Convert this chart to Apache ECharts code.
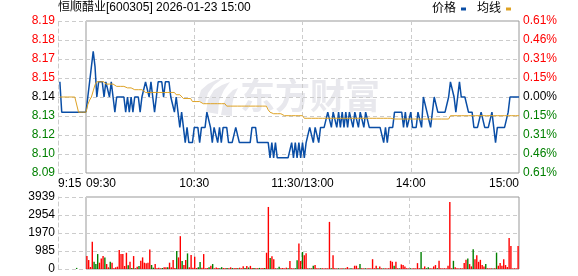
<!DOCTYPE html>
<html><head><meta charset="utf-8">
<script src="https://cdn.jsdelivr.net/npm/echarts@6/dist/echarts.min.js"></script>
<style>html,body{margin:0;padding:0;background:#fff}#c{width:578px;height:276px}</style>
</head><body><div id="c"></div>
<script>
// ---------- data ----------
const titleText = '恒顺醋业[600305] 2026-01-23 15:00';
const priceTicks = ['8.09','8.10','8.12','8.13','8.14','8.15','8.17','8.18','8.19'];
const pctTicks = ['0.61%','0.46%','0.31%','0.15%','0.00%','0.15%','0.31%','0.46%','0.61%'];
const volTicks = ['0','985','1970','2954','3939'];
const timeTicks = ['09:30','10:30','11:30/13:00','14:00','15:00'];
const preTimeLabel = '9:15';

// pre-market 9:15 .. 9:30
const prePrice = [null,8.15,8.13,8.13,8.13,8.13,8.13,8.13,8.13,8.13,8.13,8.13,8.13,8.13,8.13,8.13];
const preAvg   = [null,8.14,8.14,8.14,8.14,8.14,8.14,8.14,8.14,8.14,8.14,8.13,8.13,8.13,8.13,8.13];
const preVol   = [null,null,null,null,null,null,null,null,null,null,60,null,null,null,null,null];
const preVolGreen = [10];

// 9:30 .. 15:00 (241 minutes)
const price = [
8.13,8.14,8.15,8.16,8.17,8.16,8.14,8.15,8.15,8.15,
8.14,8.15,8.15,8.14,8.15,8.14,8.13,8.14,8.14,8.14,
8.14,8.14,8.13,8.14,8.13,8.14,8.13,8.14,8.14,8.14,
8.13,8.14,8.14,8.15,8.15,8.14,8.15,8.14,8.13,8.14,
8.15,8.15,8.15,8.14,8.15,8.15,8.15,8.14,8.14,8.13,
8.14,8.13,8.12,8.13,8.12,8.11,8.12,8.11,8.11,8.11,
8.12,8.12,8.12,8.11,8.12,8.12,8.12,8.13,8.13,8.12,
8.11,8.12,8.12,8.11,8.12,8.11,8.12,8.12,8.12,8.11,
8.11,8.11,8.11,8.12,8.12,8.11,8.11,8.11,8.11,8.11,
8.11,8.11,8.12,8.12,8.12,8.11,8.11,8.11,8.11,8.11,
8.11,8.11,8.10,8.11,8.10,8.11,8.10,8.10,8.10,8.10,
8.10,8.10,8.10,8.10,8.11,8.10,8.11,8.10,8.11,8.10,
8.11,8.10,8.11,8.11,8.12,8.12,8.11,8.12,8.12,8.11,
8.12,8.12,8.12,8.12,8.13,8.13,8.12,8.13,8.13,8.12,
8.13,8.12,8.13,8.12,8.13,8.12,8.13,8.13,8.12,8.13,
8.13,8.12,8.13,8.13,8.12,8.13,8.13,8.12,8.12,8.12,
8.12,8.12,8.12,8.12,8.12,8.11,8.12,8.11,8.12,8.12,
8.12,8.13,8.13,8.13,8.13,8.13,8.12,8.13,8.12,8.12,
8.13,8.12,8.12,8.12,8.13,8.13,8.12,8.14,8.14,8.13,
8.13,8.12,8.13,8.14,8.14,8.13,8.13,8.13,8.13,8.13,
8.13,8.14,8.15,8.15,8.14,8.13,8.14,8.15,8.14,8.14,
8.14,8.14,8.13,8.13,8.13,8.12,8.12,8.12,8.12,8.13,
8.13,8.12,8.12,8.12,8.12,8.13,8.12,8.11,8.12,8.12,
8.12,8.12,8.12,8.12,8.13,8.14,8.14,8.14,8.14,8.14,
8.14
];
const avg = [
8.130,8.135,8.138,8.140,8.144,8.148,8.150,8.150,8.150,8.150,
8.150,8.1485,8.1485,8.1485,8.1485,8.1485,8.1485,8.147,8.147,8.147,
8.147,8.147,8.146,8.146,8.146,8.146,8.146,8.1448,8.1448,8.1448,
8.1448,8.1448,8.1448,8.143,8.143,8.143,8.143,8.143,8.143,8.143,
8.143,8.143,8.143,8.143,8.143,8.143,8.143,8.143,8.143,8.143,
8.1415,8.1415,8.1415,8.1415,8.139,8.139,8.139,8.139,8.139,8.137,
8.137,8.137,8.137,8.137,8.137,8.1356,8.1356,8.1356,8.1356,8.1356,
8.1356,8.1356,8.1356,8.1356,8.1356,8.1356,8.1356,8.1356,8.134,8.134,
8.134,8.134,8.134,8.134,8.134,8.134,8.134,8.134,8.134,8.134,
8.134,8.134,8.134,8.134,8.134,8.134,8.134,8.134,8.134,8.134,
8.134,8.1315,8.130,8.130,8.129,8.129,8.129,8.129,8.129,8.129,
8.1277,8.1277,8.1277,8.1277,8.1277,8.1277,8.1277,8.1277,8.1277,8.1277,
8.1277,8.126,8.126,8.126,8.126,8.126,8.126,8.126,8.126,8.126,
8.126,8.126,8.126,8.126,8.126,8.126,8.126,8.126,8.126,8.126,
8.126,8.126,8.126,8.126,8.126,8.126,8.126,8.126,8.126,8.126,
8.126,8.126,8.126,8.126,8.126,8.126,8.126,8.126,8.126,8.126,
8.126,8.126,8.126,8.126,8.126,8.126,8.126,8.126,8.126,8.126,
8.126,8.1255,8.1255,8.1255,8.1255,8.1255,8.1255,8.1255,8.1255,8.1255,
8.1255,8.1255,8.1255,8.1255,8.1255,8.1255,8.1255,8.1255,8.1255,8.1255,
8.1255,8.1255,8.1255,8.1255,8.1255,8.1255,8.1255,8.1255,8.1255,8.1255,
8.1255,8.1255,8.1277,8.1277,8.1277,8.1277,8.1277,8.1277,8.1277,8.1277,
8.1277,8.1277,8.1277,8.1277,8.1277,8.1277,8.1277,8.1277,8.1277,8.1277,
8.1277,8.1277,8.1277,8.1277,8.1277,8.1277,8.1277,8.1277,8.1277,8.1277,
8.1277,8.1277,8.1277,8.1277,8.1277,8.1277,8.1277,8.1277,8.1277,8.1277,
8.1277
];
const vol = [
708,490,109,1488,400,272,817,345,581,708,
635,272,91,400,345,36,91,127,1035,817,
817,163,889,200,400,54,708,36,127,163,
454,635,345,309,345,1071,218,73,272,36,
73,36,54,91,91,91,345,91,490,54,
980,635,1797,436,218,490,853,91,762,73,
672,54,91,381,73,817,36,54,91,181,
272,36,80,60,40,100,50,40,60,40,
90,50,40,60,40,70,40,150,50,160,
80,170,60,50,40,40,60,40,50,60,
889,3394,600,700,530,40,30,127,40,50,
30,73,40,437,40,30,40,480,1396,437,
931,752,859,40,30,40,179,215,40,30,
40,40,30,40,30,2578,40,752,40,30,
40,30,40,30,40,107,30,40,30,179,
179,40,269,40,30,40,30,40,30,537,
40,179,40,143,40,30,40,30,40,448,
394,179,394,40,30,251,215,143,40,30,
40,30,40,30,322,40,931,40,143,40,
90,40,30,143,215,40,448,40,30,40,
30,179,3670,40,448,90,40,30,40,30,
322,501,573,269,143,1074,537,752,394,501,
215,143,269,40,30,40,30,40,895,179,
322,179,537,215,107,1700,1253,30,40,30,
1253
];
const volGreen = [4,5,6,10,13,23,25,27,29,36,37,42,45,50,53,56,62,63,68,70,74,75,78,81,84,88,90,93,96,99,102,106,107,112,116,117,120,124,126,130,136,140,143,147,152,155,162,165,171,174,180,186,189,190,195,204,212,215,222,226,228];

// ---------- categories ----------
const preTimes = [];
for (let m = 15; m <= 30; m++) preTimes.push('9:' + String(m).padStart(2,'0'));
const times = [];
function hhmm(t){return String(Math.floor(t/60)).padStart(2,'0')+':'+String(t%60).padStart(2,'0');}
for (let t = 570; t <= 690; t++) times.push(hhmm(t));
for (let t = 781; t <= 900; t++) times.push(hhmm(t));

// ---------- style ----------
const FONT = '"Liberation Sans", "Noto Sans CJK SC", sans-serif';
const BLUE = '#0a4ea6', ORANGE = '#dea224', RED = '#ff0000', GREEN = '#008000';
const PMIN = 8.09, PMAX = 8.19, PSTEP = 0.0125;
const VMAX = 3939, VSTEP = 984.75;
const dashed = {color:'#cccccc', type:[4,3], width:1};
const tickIdx = v => Math.round((parseFloat(v) - PMIN) / PSTEP);
const tickColor = v => { const i = tickIdx(v); return i > 4 ? RED : (i < 4 ? GREEN : '#000'); };
const WM = '#e8e8ed';

const chart = echarts.init(document.getElementById('c'), null, {renderer:'canvas'});
chart.setOption({
  animation: false,
  backgroundColor: '#fff',
  textStyle: {fontFamily: FONT},
  title: {text: titleText, left: 58, top: 2, padding: 0,
    textStyle: {fontSize: 12, fontWeight: 'normal', color: '#000', fontFamily: FONT}},
  legend: {left: 432, top: 3, padding: 0, align: 'right', icon: 'rect', itemWidth: 5, itemHeight: 3,
    itemGap: 11, selectedMode: false, data: ['价格','均线'],
    textStyle: {fontSize: 12, color: '#000', fontFamily: FONT}},
  graphic: [
    {type:'polygon', silent:true, z:0, shape:{points:[[198,100],[201,90],[208,84],[216,80],[222,79],[214,85],[208,93],[205,104]]}, style:{fill:WM}},
    {type:'polygon', silent:true, z:0, shape:{points:[[206,112],[208,100],[214,90],[222,85],[230,82],[224,90],[219,101],[218,114]]}, style:{fill:WM}},
    {type:'polygon', silent:true, z:0, shape:{points:[[221,115],[223,104],[228,95],[233,90],[238,88],[234,96],[232,106],[232,116]]}, style:{fill:WM}},
    {type:'text', silent:true, z:0, left:240, top:78, style:{text:'东方财富', fill:WM, font:'bold 35px "Noto Sans CJK SC"'}}
  ],
  grid: [
    {left:58, top:21, width:28, height:152},
    {left:86, top:21, width:433, height:152, show:true, borderColor:'#999', borderWidth:1, backgroundColor:'transparent'},
    {left:58, top:197, width:28, height:72},
    {left:86, top:197, width:433, height:72, show:true, borderColor:'#999', borderWidth:1, backgroundColor:'transparent'}
  ],
  xAxis: [
    {type:'category', gridIndex:0, data:preTimes, boundaryGap:false,
      axisLine:{show:false}, axisTick:{show:false}, splitLine:{show:false},
      axisLabel:{interval:(i)=>i===0, formatter:()=>preTimeLabel, alignMinLabel:'left', margin:5, fontSize:12, color:'#000', fontFamily:FONT}},
    {type:'category', gridIndex:1, data:times, boundaryGap:false,
      axisLine:{show:false}, axisTick:{show:false},
      splitLine:{show:true, interval:(i)=>i%60===0 && i>0 && i<240, lineStyle:dashed},
      axisLabel:{interval:(i)=>i%60===0, formatter:(v,i)=>timeTicks[Math.round(i/60)], alignMinLabel:'left', alignMaxLabel:'right', margin:5, fontSize:12, color:'#000', fontFamily:FONT, hideOverlap:false}},
    {type:'category', gridIndex:2, data:preTimes, boundaryGap:false,
      axisLine:{show:false}, axisTick:{show:false}, axisLabel:{show:false}, splitLine:{show:false}},
    {type:'category', gridIndex:3, data:times, boundaryGap:true,
      axisLine:{show:false}, axisTick:{show:false}, axisLabel:{show:false},
      splitLine:{show:true, interval:(i)=>i%60===0 && i>0 && i<240, lineStyle:dashed}}
  ],
  yAxis: [
    {type:'value', gridIndex:0, min:PMIN, max:PMAX, interval:PSTEP, position:'left',
      axisLine:{show:true, lineStyle:dashed}, axisTick:{show:false},
      splitLine:{show:true, lineStyle:dashed},
      axisLabel:{formatter:v=>priceTicks[tickIdx(v)], color:tickColor, margin:3, fontSize:12, fontFamily:FONT}},
    {type:'value', gridIndex:1, min:PMIN, max:PMAX, interval:PSTEP, position:'right',
      axisLine:{show:false}, axisTick:{show:false},
      splitLine:{show:true, lineStyle:dashed},
      axisLabel:{formatter:v=>pctTicks[tickIdx(v)], color:tickColor, margin:4, fontSize:12, fontFamily:FONT}},
    {type:'value', gridIndex:2, min:0, max:VMAX, interval:VSTEP, position:'left',
      axisLine:{show:true, lineStyle:dashed}, axisTick:{show:false},
      splitLine:{show:true, lineStyle:dashed},
      axisLabel:{formatter:v=>volTicks[Math.round(v/VSTEP)], color:'#000', margin:3, fontSize:12, fontFamily:FONT}},
    {type:'value', gridIndex:3, min:0, max:VMAX, interval:VSTEP,
      axisLine:{show:false}, axisTick:{show:false}, axisLabel:{show:false},
      splitLine:{show:true, lineStyle:dashed}}
  ],
  series: [
    {name:'价格', type:'line', xAxisIndex:0, yAxisIndex:0, data:prePrice, showSymbol:false, symbol:'none',
      lineStyle:{color:BLUE, width:1.5}, itemStyle:{color:BLUE}, z:3},
    {name:'均线', type:'line', xAxisIndex:0, yAxisIndex:0, data:preAvg, showSymbol:false, symbol:'none',
      lineStyle:{color:ORANGE, width:1}, itemStyle:{color:ORANGE}, z:4},
    {name:'价格', type:'line', xAxisIndex:1, yAxisIndex:1, data:price, showSymbol:false, symbol:'none',
      lineStyle:{color:BLUE, width:1.5}, itemStyle:{color:BLUE}, z:3},
    {name:'均线', type:'line', xAxisIndex:1, yAxisIndex:1, data:avg, showSymbol:false, symbol:'none',
      lineStyle:{color:ORANGE, width:1}, itemStyle:{color:ORANGE}, z:4},
    {name:'preVol', type:'bar', xAxisIndex:2, yAxisIndex:2, data:preVol, barWidth:1.4,
      itemStyle:{color:p=>preVolGreen.includes(p.dataIndex)?GREEN:RED}},
    {name:'vol', type:'bar', xAxisIndex:3, yAxisIndex:3, data:vol, barWidth:1.4,
      itemStyle:{color:p=>volGreen.includes(p.dataIndex)?GREEN:RED}}
  ]
});
</script></body></html>
